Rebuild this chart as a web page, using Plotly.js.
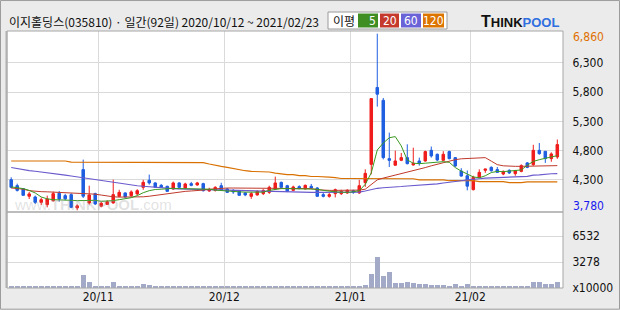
<!DOCTYPE html>
<html><head><meta charset="utf-8">
<script src="https://cdn.plot.ly/plotly-3.0.1.min.js"></script>
<style>html,body{margin:0;padding:0;background:#ebebeb;}#chart{width:620px;height:310px;}</style>
</head><body><div id="chart"></div>
<script>
const dates = [
'20/10/12','20/10/13','20/10/14','20/10/15','20/10/16','20/10/19','20/10/20','20/10/21','20/10/22','20/10/23','20/10/26','20/10/27','20/10/28','20/10/29','20/10/30',
'20/11/02','20/11/03','20/11/04','20/11/05','20/11/06','20/11/09','20/11/10','20/11/11','20/11/12','20/11/13','20/11/16','20/11/17','20/11/18','20/11/19','20/11/20','20/11/23','20/11/24','20/11/25','20/11/26','20/11/27','20/11/30',
'20/12/01','20/12/02','20/12/03','20/12/04','20/12/07','20/12/08','20/12/09','20/12/10','20/12/11','20/12/14','20/12/15','20/12/16','20/12/17','20/12/18','20/12/21','20/12/22','20/12/23','20/12/24','20/12/28','20/12/29','20/12/30',
'21/01/04','21/01/05','21/01/06','21/01/07','21/01/08','21/01/11','21/01/12','21/01/13','21/01/14','21/01/15','21/01/18','21/01/19','21/01/20','21/01/21','21/01/22','21/01/25','21/01/26','21/01/27','21/01/28','21/01/29',
'21/02/01','21/02/02','21/02/03','21/02/04','21/02/05','21/02/08','21/02/09','21/02/10','21/02/15','21/02/16','21/02/17','21/02/18','21/02/19','21/02/22','21/02/23'];

const openP = [4303,4201,4150,4020,4007,3915,3876,3944,4070,4030,
4047,3820,4475,3905,4064,3850,3880,3905,4018,4076,
4030,4060,4172,4292,4247,4206,4189,4144,4247,4161,
4235,4213,4235,4110,4120,4200,4144,4120,4103,4076,
4018,4042,4064,4086,4144,4257,4200,4120,4184,4144,
4189,4161,4047,4018,4064,4064,4076,4115,4076,4252,
4565,5880,5660,4663,4550,4634,4680,4555,4623,4623,
4805,4737,4634,4783,4680,4450,4370,4132,4343,4463,
4514,4475,4400,4463,4406,4445,4590,4560,4805,4788,
4663,4692];
const highP = [4343,4235,4160,4093,4030,3996,4030,4099,4110,4060,
4070,3880,4646,4200,4080,3920,3950,4303,4130,4085,
4120,4140,4300,4390,4260,4230,4200,4270,4260,4250,
4265,4265,4250,4165,4190,4250,4160,4140,4115,4090,
4090,4120,4140,4200,4355,4270,4215,4200,4205,4220,
4230,4175,4075,4075,4150,4130,4140,4130,4300,4480,
5690,6800,5700,5108,4800,4760,4908,4850,4680,4800,
4870,4750,4790,4800,4690,4500,4460,4370,4480,4490,
4530,4520,4460,4480,4470,4565,4605,4900,4930,4790,
4770,4990];
const lowP = [4155,4100,4030,3973,3887,3870,3830,3927,3927,3950,
3815,3780,3990,3876,3870,3830,3870,3893,4004,4000,
4010,4040,4130,4218,4160,4160,4100,4130,4160,4155,
4190,4200,4100,4095,4100,4110,4075,4060,4030,4020,
3975,4030,4040,4060,4130,4160,4090,4110,4140,4140,
4150,4010,4000,3995,4000,4040,4060,4060,4060,4180,
4394,5553,4650,4520,4540,4620,4565,4543,4543,4610,
4680,4620,4620,4650,4520,4355,4120,4120,4330,4420,
4440,4420,4380,4400,4370,4430,4500,4540,4730,4590,
4610,4660];
const closeP = [4172,4120,4035,4060,3915,3961,3973,4064,3973,3975,
3830,3855,4020,4040,3888,3900,3925,4047,4086,4007,
4093,4115,4257,4247,4172,4172,4103,4247,4172,4230,
4206,4247,4115,4130,4172,4120,4086,4093,4035,4042,
4064,4103,4120,4172,4247,4172,4103,4178,4150,4206,
4161,4018,4018,4047,4132,4103,4120,4086,4200,4411,
5690,5765,4680,4634,4623,4680,4577,4583,4583,4783,
4709,4640,4737,4663,4538,4365,4192,4343,4428,4486,
4457,4428,4445,4418,4457,4543,4514,4805,4748,4663,
4743,4903];

const ma5 = [4180,4165,4150,4120,4076,4007,3975,3961,3961,3955,
3950,3944,3950,3955,3950,3932,3935,3945,3961,3975,
3995,4030,4080,4115,4135,4140,4150,4155,4150,4150,
4150,4150,4150,4140,4125,4115,4105,4100,4095,4090,
4086,4086,4090,4120,4140,4150,4150,4150,4150,4150,
4150,4140,4120,4103,4095,4090,4086,4095,4115,4223,
4420,4810,4930,5020,5040,4880,4640,4585,4577,4585,
4595,4605,4611,4600,4510,4450,4394,4350,4335,4370,
4425,4445,4440,4450,4450,4470,4550,4615,4645,4665,
4690,4715];
const ma20 = [4161,4150,4140,4115,4103,4098,4095,4090,4086,4082,
4078,4075,4070,4066,4055,4040,4020,4010,4005,4005,
4005,4005,4010,4020,4035,4050,4065,4080,4092,4103,
4110,4115,4125,4140,4150,4155,4160,4160,4160,4160,
4160,4160,4160,4160,4160,4150,4150,4150,4150,4150,
4150,4130,4120,4120,4120,4120,4120,4120,4125,4140,
4220,4300,4330,4355,4380,4405,4428,4450,4475,4510,
4540,4565,4595,4625,4645,4660,4665,4675,4685,4680,
4620,4560,4540,4531,4531,4531,4531,4535,4538,4540,
4543,4543];
const ma60 = [4510,4490,4470,4458,4446,4435,4425,4415,4395,4380,
4365,4350,4335,4315,4295,4280,4265,4250,4240,4228,
4212,4200,4190,4180,4170,4163,4155,4150,4146,4143,
4140,4140,4138,4136,4135,4133,4130,4125,4120,4115,
4110,4105,4100,4098,4095,4092,4090,4086,4086,4086,
4086,4086,4086,4086,4086,4086,4086,4086,4090,4110,
4137,4155,4166,4170,4175,4185,4195,4200,4210,4220,
4225,4232,4245,4255,4270,4285,4300,4305,4320,4330,
4332,4335,4340,4348,4352,4355,4360,4380,4385,4400,
4405,4406];
const ma120 = [4623,4623,4623,4623,4623,4623,4623,4623,4623,4623,
4603,4603,4603,4603,4603,4603,4595,4595,4595,4595,
4595,4595,4595,4595,4595,4595,4595,4595,4595,4595,
4595,4595,4595,4572,4548,4531,4514,4492,4475,4457,
4445,4445,4435,4435,4415,4401,4390,4390,4372,4372,
4358,4358,4346,4346,4338,4324,4324,4324,4320,4320,
4320,4320,4320,4320,4320,4320,4320,4320,4300,4300,
4300,4300,4300,4286,4286,4286,4286,4286,4270,4270,
4270,4270,4270,4252,4252,4252,4266,4266,4266,4266,
4266,4266];
// volume, unit x10000 shares
const volume = [220,220,220,220,220,220,220,220,220,220,
220,220,1590,706,220,220,220,706,220,220,
220,220,540,416,220,220,220,220,220,220,
220,220,220,220,220,220,220,220,220,220,
220,220,220,220,220,220,220,220,220,220,
220,220,220,220,220,220,220,220,220,416,
1800,3860,1550,2055,630,630,706,630,455,455,
378,335,335,220,455,220,455,220,220,220,
220,220,220,220,220,220,220,706,706,455,
455,706];

const priceTicks = [4300,4800,5300,5800,6300];
const volTicks = [0,3278,6532];
const volTickText = ['x10000','3278','6532'];
const maxLabel = '6,860', minLabel = '3,780';
const titleText = '이지홀딩스(035810) · 일간(92일) 2020/10/12 ~ 2021/02/23';
const maNames = ['5','20','60','120'];
const maColors = ['#3e8e24','#c4392c','#6a63d8','#dc7400'];

const idx = dates.map((d,i)=>i);
const mTicks=[], mText=[];
for(let i=1;i<dates.length;i++){ if(dates[i].slice(0,5)!==dates[i-1].slice(0,5)){ mTicks.push(i-0.5); mText.push(dates[i].slice(0,5)); } }

const L=7,R=563,T=31,B=288.3;
const px = x => (x-L)/(R-L);
const py = y => (B-y)/(B-T);
const fnt = 'Liberation Sans Narrow, DejaVu Sans Condensed, Arial, sans-serif';

const mk = (y,c,w)=>({type:'scatter',mode:'lines',x:idx,y:y,xaxis:'x',yaxis:'y',line:{color:c,width:w},hoverinfo:'skip'});
const traces = [
 {type:'bar',x:idx,y:volume,xaxis:'x',yaxis:'y2',width:0.78,marker:{color:'#a3aac8'},hoverinfo:'skip'},
 mk(ma120,'#d97000',1.1), mk(ma60,'#6a5acd',1.1), mk(ma20,'#c0392b',1), mk(ma5,'#3a9a20',1),
 {type:'candlestick',x:idx,open:openP,high:highP,low:lowP,close:closeP,xaxis:'x',yaxis:'y',
  increasing:{line:{color:'#f01c1c',width:1},fillcolor:'#f01c1c'},
  decreasing:{line:{color:'#1f5ee0',width:1},fillcolor:'#1f5ee0'},whiskerwidth:0,hoverinfo:'skip'}
];

const shapes = [
 {type:'rect',xref:'paper',yref:'paper',x0:px(0.5),x1:px(619.5),y0:py(309.5),y1:py(0.5),line:{color:'#9c9c9c',width:1}},
 {type:'rect',xref:'paper',yref:'paper',x0:px(7),x1:px(563),y0:py(288.3),y1:py(31),line:{color:'#a6a6a6',width:1}},
 {type:'line',xref:'paper',yref:'paper',x0:px(6.5),x1:px(6.5),y0:py(288.3),y1:py(31),line:{color:'#b0b0b0',width:2}},
 {type:'line',xref:'paper',yref:'paper',x0:px(7),x1:px(563),y0:py(212.3),y1:py(212.3),line:{color:'#a6a6a6',width:1.5}},
 {type:'rect',xref:'paper',yref:'paper',x0:px(328),x1:px(447),y0:py(29),y1:py(12),fillcolor:'#ffffff',line:{color:'#9a9a9a',width:1}}
];
const boxX=[[358,378],[380,399],[401,421],[423,444]];
const annotations = [
 {xref:'paper',yref:'paper',x:px(7),y:py(21.5),xanchor:'left',yanchor:'middle',showarrow:false,text:titleText,font:{family:'Noto Sans CJK KR, sans-serif',size:12,color:'#111'}},
 {xref:'paper',yref:'paper',x:px(331),y:py(20.5),xanchor:'left',yanchor:'middle',showarrow:false,text:'이평',font:{family:'Noto Sans CJK KR, sans-serif',size:12,color:'#111'}},
 {xref:'paper',yref:'paper',x:px(479),y:py(21),xanchor:'left',yanchor:'middle',showarrow:false,
  text:'<b><span style="font-size:16px">T</span>HINK<span style="color:#2f6fe0">POOL</span></b>',font:{family:'Liberation Sans, Arial, sans-serif',size:13,color:'#111'}},
 {xref:'paper',yref:'paper',x:px(571),y:py(37.3),xanchor:'left',yanchor:'middle',showarrow:false,text:maxLabel,font:{family:fnt,size:12,color:'#e07000'}},
 {xref:'paper',yref:'paper',x:px(571),y:py(206.7),xanchor:'left',yanchor:'middle',showarrow:false,text:minLabel,font:{family:fnt,size:12,color:'#1a1aee'}},
 {xref:'paper',yref:'paper',x:px(93),y:py(205),xanchor:'center',yanchor:'middle',showarrow:false,text:'www.<b>THINKPOOL</b>.com',font:{family:'Liberation Sans, Arial, sans-serif',size:15,color:'rgba(150,150,150,0.28)'}}
];
maNames.forEach((n,k)=>{
 shapes.push({type:'rect',xref:'paper',yref:'paper',x0:px(boxX[k][0]),x1:px(boxX[k][1]),y0:py(27.5),y1:py(13.5),fillcolor:maColors[k],line:{width:0}});
 const right = k===0;
 annotations.push({xref:'paper',yref:'paper',x:right?px(boxX[k][1]-1):px((boxX[k][0]+boxX[k][1])/2),y:py(20.8),
  xanchor:right?'right':'center',yanchor:'middle',showarrow:false,borderpad:0,text:n,font:{family:fnt,size:12,color:'#ffffff'}});
});

const layout = {
 width:620,height:310,margin:{l:L,r:620-R,t:T,b:310-B},
 paper_bgcolor:'#ebebeb',plot_bgcolor:'#ffffff',showlegend:false,hovermode:false,boxgap:0.4,bargap:0,
 xaxis:{anchor:'y2',range:[-0.7,91.95],tickvals:mTicks,ticktext:mText,showgrid:true,gridcolor:'#dadada',gridwidth:1,
  zeroline:false,showline:false,ticks:'',tickfont:{family:fnt,size:12,color:'#111'},rangeslider:{visible:false},fixedrange:true},
 yaxis:{domain:[0.2957,1],range:[3750,6846],side:'right',anchor:'x',tickvals:priceTicks,
  ticktext:priceTicks.map(v=>v.toLocaleString('en-US')),showgrid:true,gridcolor:'#dadada',zeroline:false,showline:false,
  ticks:'outside',ticklen:6,tickcolor:'rgba(0,0,0,0)',tickfont:{family:fnt,size:12,color:'#111'}},
 yaxis2:{domain:[0,0.2957],range:[0,9600],side:'right',anchor:'x',tickvals:volTicks,ticktext:volTickText,
  showgrid:true,gridcolor:'#dadada',zeroline:false,showline:false,ticks:'outside',ticklen:6,tickcolor:'rgba(0,0,0,0)',
  tickfont:{family:fnt,size:12,color:'#111'}},
 shapes:shapes,annotations:annotations
};
Plotly.newPlot('chart',traces,layout,{staticPlot:true,displayModeBar:false});
</script></body></html>
